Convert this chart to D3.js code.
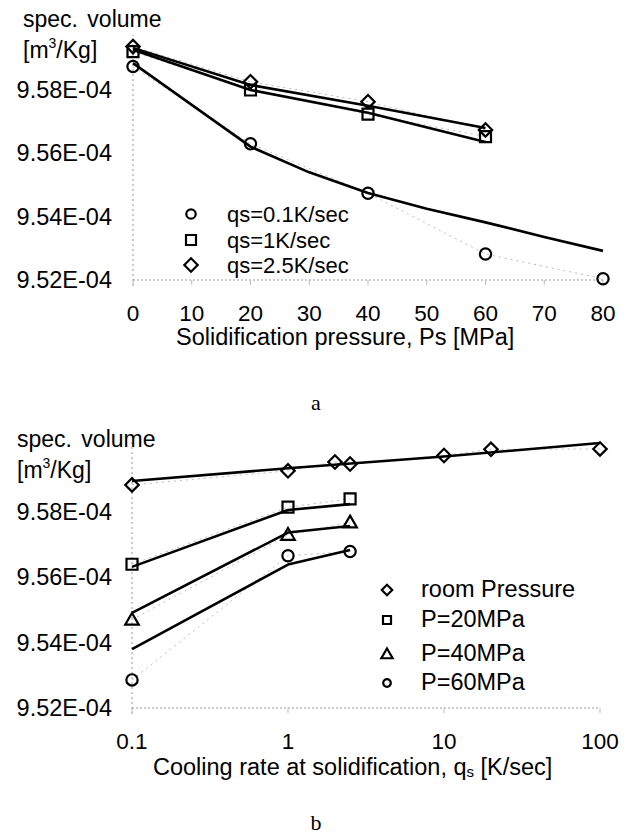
<!DOCTYPE html>
<html>
<head>
<meta charset="utf-8">
<script src="https://d3js.org/d3.v7.min.js"></script>
<style>
body { margin: 0; background: #fff; }
text { font-family: "Liberation Sans", Arial, sans-serif; fill: #000; }
</style>
</head>
<body>
<svg id="chart" width="628" height="834"></svg>
<script>
// all volumes in units of 1e-4 m3/kg

// chart a: spec. volume vs solidification pressure
var pressures = [0, 20, 40, 60, 80];
var volQs01 = [9.5874, 9.5630, 9.5474, 9.5282, 9.5204];
var volQs1 = [9.5921, 9.5800, 9.5724, 9.5653];
var volQs25 = [9.5937, 9.5826, 9.5763, 9.5674];
// model curves drawn as solid lines
var fitPressQs01 = [0, 20, 30, 40, 50, 60, 70, 80];
var fitQs01 = [9.5885, 9.5621, 9.5540, 9.5475, 9.5425, 9.5382, 9.5336, 9.5292];
var fitPress = [0, 20, 40, 60];
var fitQs1 = [9.5927, 9.5800, 9.5728, 9.5636];
var fitQs25 = [9.5933, 9.5816, 9.5750, 9.5680];
var ticksA = [0, 10, 20, 30, 40, 50, 60, 70, 80];

// chart b: spec. volume vs cooling rate
var ratesRoom = [0.1, 1, 2, 2.5, 10, 20, 100];
var volRoom = [9.5883, 9.5926, 9.5953, 9.5947, 9.5973, 9.5992, 9.5993];
var ratesP = [0.1, 1, 2.5];
var volP20 = [9.5640, 9.5815, 9.5840];
var volP40 = [9.5470, 9.5730, 9.5768];
var volP60 = [9.5286, 9.5666, 9.5679];
var fitRatesRoom = [0.1, 1, 10, 100];
var fitRoom = [9.5895, 9.5934, 9.5970, 9.6011];
var fitP20 = [9.5632, 9.5806, 9.5824];
var fitP40 = [9.5491, 9.5737, 9.5757];
var fitP60 = [9.5380, 9.5639, 9.5684];
var ticksB = [0.1, 1, 10, 100];

var yTicks = [9.52, 9.54, 9.56, 9.58];

var svg = d3.select("#chart");

function pairs(xs, ys) {
  return ys.map(function(v, i) { return [xs[i], v]; });
}

function marker(g, type, x, y, size) {
  var sym = {
    circle: d3.symbolCircle,
    square: d3.symbolSquare,
    diamond: d3.symbolSquare,
    triangle: d3.symbolTriangle
  }[type];
  var p = g.append("path")
    .attr("d", d3.symbol().type(sym).size(size)())
    .attr("fill", "none")
    .attr("stroke", "#000")
    .attr("stroke-width", 2.2);
  if (type == "diamond") p.attr("transform", "translate(" + x + "," + y + ") rotate(45)");
  else if (type == "triangle") p.attr("transform", "translate(" + x + "," + (y + 1) + ")");
  else p.attr("transform", "translate(" + x + "," + y + ")");
}

function yLabel(g, x, y) {
  g.append("text").attr("x", x).attr("y", y).attr("font-size", 23)
    .attr("word-spacing", 3).text("spec. volume");
  var t = g.append("text").attr("x", x).attr("y", y + 31).attr("font-size", 23);
  t.append("tspan").text("[m");
  t.append("tspan").attr("font-size", 14).attr("dy", -10).text("3");
  t.append("tspan").attr("dy", 10).text("/Kg]");
}

function drawPanel(opt) {
  var g = svg.append("g");
  var x = opt.x, y = opt.y;

  // dotted axes
  g.append("line")
    .attr("x1", x.range()[0]).attr("x2", x.range()[1])
    .attr("y1", y(9.52)).attr("y2", y(9.52))
    .attr("stroke", "#999").attr("stroke-dasharray", "2,2");
  g.append("line")
    .attr("x1", x.range()[0]).attr("x2", x.range()[0])
    .attr("y1", y(9.52) + 6).attr("y2", opt.top)
    .attr("stroke", "#999").attr("stroke-dasharray", "2,3");
  g.selectAll(".xt").data(opt.xticks).enter().append("line")
    .attr("x1", function(d) { return x(d); }).attr("x2", function(d) { return x(d); })
    .attr("y1", y(9.52)).attr("y2", y(9.52) + 5)
    .attr("stroke", "#bbb");

  // tick labels
  g.selectAll(".yl").data(yTicks).enter().append("text")
    .attr("x", 112).attr("y", function(d) { return y(d) + 8; })
    .attr("text-anchor", "end").attr("font-size", 23.5)
    .text(function(d) { return d.toFixed(2) + "E-04"; });
  g.selectAll(".xl").data(opt.xticks).enter().append("text")
    .attr("x", function(d) { return x(d); }).attr("y", y(9.52) + 41)
    .attr("text-anchor", "middle").attr("font-size", 22.5)
    .text(function(d) { return d; });

  var line = d3.line().x(function(d) { return x(d[0]); }).y(function(d) { return y(d[1]); });

  // faint lines joining the measured points
  opt.series.forEach(function(s) {
    g.append("path").attr("d", line(pairs(s.xs, s.vals)))
      .attr("fill", "none").attr("stroke", "#bbb").attr("stroke-width", 1)
      .attr("stroke-dasharray", "2,4");
  });
  // model lines
  opt.fits.forEach(function(f) {
    g.append("path").attr("d", line(pairs(f.xs, f.vals)))
      .attr("fill", "none").attr("stroke", "#000").attr("stroke-width", 2.6)
      .attr("stroke-linejoin", "round");
  });
  // markers
  opt.series.forEach(function(s) {
    s.vals.forEach(function(v, i) {
      marker(g, s.type, x(s.xs[i]), y(v), s.size);
    });
  });
  return g;
}

// ---- panel a ----
var xA = d3.scaleLinear().domain([0, 80]).range([133, 603]);
var yA = d3.scaleLinear().domain([9.52, 9.58]).range([280, 90]);
var gA = drawPanel({
  x: xA, y: yA, top: 35, xticks: ticksA,
  series: [
    { xs: pressures, vals: volQs01, type: "circle", size: 100 },
    { xs: pressures, vals: volQs1, type: "square", size: 121 },
    { xs: pressures, vals: volQs25, type: "diamond", size: 90 }
  ],
  fits: [
    { xs: fitPressQs01, vals: fitQs01 },
    { xs: fitPress, vals: fitQs1 },
    { xs: fitPress, vals: fitQs25 }
  ]
});
yLabel(gA, 23, 27);
var legA = [
  { label: "qs=0.1K/sec", type: "circle", size: 70, y: 214 },
  { label: "qs=1K/sec", type: "square", size: 100, y: 240 },
  { label: "qs=2.5K/sec", type: "diamond", size: 90, y: 265 }
];
legA.forEach(function(d) {
  marker(gA, d.type, 191, d.y, d.size);
  gA.append("text").attr("x", 227).attr("y", d.y + 8).attr("font-size", 22).text(d.label);
});
gA.append("text").attr("x", 176).attr("y", 345).attr("font-size", 23.5)
  .text("Solidification pressure, Ps [MPa]");
svg.append("text").attr("x", 316).attr("y", 410).attr("text-anchor", "middle")
  .style("font-family", "'Liberation Serif', serif").attr("font-size", 22).text("a");

// ---- panel b ----
var xB = d3.scaleLog().domain([0.1, 100]).range([132, 600]);
var yB = d3.scaleLinear().domain([9.52, 9.58]).range([708, 512]);
var gB = drawPanel({
  x: xB, y: yB, top: 440, xticks: ticksB,
  series: [
    { xs: ratesRoom, vals: volRoom, type: "diamond", size: 90 },
    { xs: ratesP, vals: volP20, type: "square", size: 121 },
    { xs: ratesP, vals: volP40, type: "triangle", size: 80 },
    { xs: ratesP, vals: volP60, type: "circle", size: 100 }
  ],
  fits: [
    { xs: fitRatesRoom, vals: fitRoom },
    { xs: ratesP, vals: fitP20 },
    { xs: ratesP, vals: fitP40 },
    { xs: ratesP, vals: fitP60 }
  ]
});
yLabel(gB, 17, 447);
var legB = [
  { label: "room Pressure", type: "diamond", size: 55, y: 590 },
  { label: "P=20MPa", type: "square", size: 64, y: 620 },
  { label: "P=40MPa", type: "triangle", size: 55, y: 654 },
  { label: "P=60MPa", type: "circle", size: 45, y: 683 }
];
legB.forEach(function(d) {
  marker(gB, d.type, 387, d.y, d.size);
  gB.append("text").attr("x", 421).attr("y", d.y + 7).attr("font-size", 23.5).text(d.label);
});
var xt = gB.append("text").attr("x", 153).attr("y", 775).attr("font-size", 23.5);
xt.append("tspan").text("Cooling rate at solidification, q");
xt.append("tspan").attr("font-size", 15).attr("dy", 2).text("s");
xt.append("tspan").attr("dy", -2).text(" [K/sec]");
svg.append("text").attr("x", 316).attr("y", 830).attr("text-anchor", "middle")
  .style("font-family", "'Liberation Serif', serif").attr("font-size", 22).text("b");
</script>
</body>
</html>
